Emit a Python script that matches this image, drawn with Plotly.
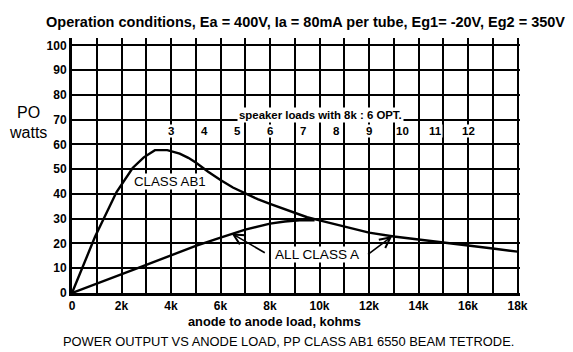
import plotly.graph_objects as go

# ---- data ----
load_ab1_k = [0, 0.93, 1.8, 2.45, 2.9, 3.35, 3.85, 4.35, 4.7, 5.0, 5.5, 6.0, 6.5, 7.0, 7.5, 8.0,
              8.5, 9.0, 9.5, 10.0, 11.0, 12.0, 13.0, 14.0, 15.0, 16.0, 17.0, 18.0]
po_ab1 = [0, 22.7, 40.8, 50.5, 54.8, 57.7, 57.7, 56.3, 54.6, 52.7, 49.0, 45.6, 42.6, 40.1, 37.9, 36.0,
          34.1, 32.2, 30.6, 29.3, 26.8, 24.4, 22.8, 21.5, 20.3, 19.2, 18.0, 16.7]
load_a_k = [0, 1, 2, 3, 4, 5, 6, 7, 8, 8.6, 9.2, 9.8]
po_a = [0, 3.9, 7.6, 11.4, 15.2, 19.0, 22.4, 25.6, 28.0, 28.9, 29.4, 29.4]

x_tickvals = [0, 2, 4, 6, 8, 10, 12, 14, 16, 18]
x_ticktext = ["0", "2k", "4k", "6k", "8k", "10k", "12k", "14k", "16k", "18k"]
y_tickvals = [0, 10, 20, 30, 40, 50, 60, 70, 80, 90, 100]

speaker_ohms = [3, 4, 5, 6, 7, 8, 9, 10, 11, 12]
opt_ratio_k = 8 / 6  # 8k : 6 ohm

# ---- layout geometry ----
W, H = 573, 352
L, R, T, B = 72, 52.5, 38, 59
pw, ph = W - L - R, H - T - B

def px(x):
    return (x - L) / pw

def py(y):
    return (H - B - y) / ph

fig = go.Figure()
line_style = dict(color="black", width=2.4)
fig.add_trace(go.Scatter(x=load_ab1_k, y=po_ab1, mode="lines", line=line_style, showlegend=False))
fig.add_trace(go.Scatter(x=load_a_k, y=po_a, mode="lines", line=line_style, showlegend=False))

arial = "Liberation Sans, Arial, sans-serif"

def ptext(text, x, y, size, bold=False):
    return dict(text=("<b>%s</b>" % text) if bold else text, xref="paper", yref="paper",
                x=px(x), y=py(y), xanchor="center", yanchor="middle", showarrow=False,
                font=dict(family=arial, size=size, color="black"))

ann = []
ann.append(ptext("Operation conditions, Ea = 400V, Ia = 80mA per tube, Eg1= -20V, Eg2 = 350V", 306, 22, 14.5, True))
ann.append(ptext("PO", 28, 113, 16))
ann.append(ptext("watts", 28, 132, 16))
ann.append(ptext("anode to anode load, kohms", 275, 321, 12.8, True))
ann.append(ptext("POWER OUTPUT VS ANODE LOAD, PP CLASS AB1 6550 BEAM TETRODE.", 289, 341, 12.9))
ann.append(dict(text="<b>speaker loads with 8k : 6 OPT.</b>", x=10.05, y=71.8, showarrow=False,
                xanchor="center", yanchor="middle",
                bgcolor="white", borderpad=1, font=dict(family=arial, size=11.4, color="black")))
for n in speaker_ohms:
    ann.append(dict(text="<b>%d</b>" % n, x=n * opt_ratio_k, y=65.3, showarrow=False,
                    xanchor="center", yanchor="middle",
                    bgcolor="white", borderpad=0, font=dict(family=arial, size=11.5, color="black")))
ann.append(dict(text="CLASS AB1", x=3.95, y=45.2, showarrow=False, bgcolor="white", borderpad=0,
                xanchor="center", yanchor="middle",
                font=dict(family=arial, size=13.3, color="black")))
ann.append(dict(text="ALL CLASS A", x=9.9, y=15.6, showarrow=False, bgcolor="white", borderpad=0,
                xanchor="center", yanchor="middle",
                font=dict(family=arial, size=13.6, color="black")))
# arrows
ann.append(dict(text="", x=6.44, y=24.1, ax=7.85, ay=15.9, axref="x", ayref="y", showarrow=True,
                arrowhead=5, arrowsize=1.3, arrowwidth=1.6, arrowcolor="black", standoff=0, startstandoff=0))
ann.append(dict(text="", x=12.94, y=23.0, ax=11.9, ay=15.1, axref="x", ayref="y", showarrow=True,
                arrowhead=5, arrowsize=1.3, arrowwidth=1.6, arrowcolor="black", standoff=0, startstandoff=0))

tickfont = dict(family=arial, size=12, color="black", weight="bold")
fig.update_layout(
    width=W, height=H, margin=dict(l=L, r=R, t=T, b=B, pad=0),
    paper_bgcolor="white", plot_bgcolor="white", showlegend=False,
    annotations=ann,
    xaxis=dict(range=[0, 18.1], tickvals=x_tickvals, ticktext=x_ticktext, showgrid=True,
               gridcolor="black", gridwidth=1.6, zeroline=False, showline=True, linecolor="black",
               linewidth=3, ticks="", tickfont=tickfont,
               minor=dict(dtick=1, showgrid=True, gridcolor="black", gridwidth=1.6)),
    yaxis=dict(range=[0, 103], tickvals=y_tickvals, showgrid=True, gridcolor="black", gridwidth=1.6,
               zeroline=False, showline=True, linecolor="black", linewidth=3, ticks="",
               tickfont=tickfont),
)

fig.write_html("out.html")
